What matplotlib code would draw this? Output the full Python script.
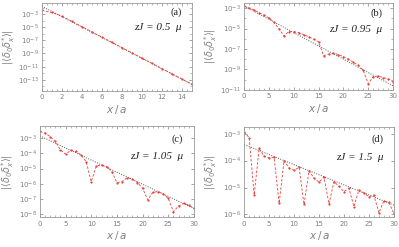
import numpy as np
import matplotlib
matplotlib.use('Agg')
import matplotlib.pyplot as plt
from matplotlib.ticker import FixedLocator, FuncFormatter, MultipleLocator

# log10 values
xa = list(range(16))
ya = [-2.4, -2.75, -3.3, -4.1, -4.9, -5.7, -6.5, -7.3, -8.1, -8.9,
      -9.7, -10.5, -11.3, -12.1, -12.9, -13.7]
fit_xa = [0, 15]
fit_ya = [-1.8, -13.7]

xb = list(range(31))
yb = [-2.8, -3.0, -3.2, -3.45, -3.7, -3.96, -4.4, -5.0, -5.73, -5.3,
      -5.3, -5.4, -5.6, -5.8, -6.05, -6.3, -7.65, -7.5, -7.4, -7.55,
      -7.75, -8.0, -8.3, -8.6, -9.1, -10.4, -9.7, -9.65, -9.8, -9.9, -10.2]
fit_xb = [0, 30]
fit_yb = [-2.8, -10.6]

xc = list(range(31))
yc = [-2.56, -2.67, -2.9, -3.22, -3.77, -4.06, -3.8, -3.88, -4.1, -4.54,
      -5.86, -4.83, -4.76, -4.87, -5.2, -5.93, -5.86, -5.6, -5.7, -5.93,
      -6.3, -7.07, -6.57, -6.52, -6.68, -6.96, -7.84, -7.47, -7.3, -7.4, -7.63]
fit_xc = [0, 30]
fit_yc = [-2.85, -7.63]

xd = list(range(31))
yd = [-2.93, -3.15, -5.28, -3.55, -3.84, -3.9, -3.88, -5.59, -4.0, -4.28,
      -4.36, -4.25, -5.63, -4.38, -4.65, -4.8, -4.61, -5.61, -4.78, -4.96,
      -5.15, -5.03, -5.71, -5.09, -5.21, -5.34, -5.28, -5.94, -5.5, -5.55, -5.96]
fit_xd = [0, 30]
fit_yd = [-3.4, -5.65]

panels = [
    ('(a)', 'zJ = 0.5  \u03bc', xa, ya, fit_xa, fit_ya, (0, 15), (-14.7, -1.3),
     [0, 2, 4, 6, 8, 10, 12, 14], [-3, -5, -7, -9, -11, -13]),
    ('(b)', 'zJ = 0.95  \u03bc', xb, yb, fit_xb, fit_yb, (0, 30), (-11.0, -2.5),
     [0, 5, 10, 15, 20, 25, 30], [-3, -5, -7, -9, -11]),
    ('(c)', 'zJ = 1.05  \u03bc', xc, yc, fit_xc, fit_yc, (0, 30), (-8.2, -2.2),
     [0, 5, 10, 15, 20, 25, 30], [-3, -4, -5, -6, -7, -8]),
    ('(d)', 'zJ = 1.5  \u03bc', xd, yd, fit_xd, fit_yd, (0, 30), (-6.1, -2.75),
     [0, 5, 10, 15, 20, 25, 30], [-3, -4, -5, -6]),
]

boxes = [
    [0.105, 0.632, 0.376, 0.356],
    [0.612, 0.636, 0.373, 0.352],
    [0.100, 0.121, 0.386, 0.369],
    [0.612, 0.121, 0.375, 0.365],
]
# x position of the y label, and heights of the two texts, in axes units
ylab_x = [-0.165, -0.17, -0.155, -0.17]
tag_y = [0.89, 0.88, 0.86, 0.86]
txt_y = [0.72, 0.70, 0.66, 0.66]

gray = '#808080'
red = '#e8403a'
plt.rcParams['mathtext.fontset'] = 'dejavusans'

fig = plt.figure(figsize=(3.99, 2.47), dpi=100)

for i, (tag, txt, x, y, fx, fy, xl, yl, xt, yt) in enumerate(panels):
    ax = fig.add_axes(boxes[i])
    ax.plot(fx, 10.0 ** np.array(fy), ls=(0, (1, 1.5)), color='#555555', lw=0.7)
    ax.plot(x, 10.0 ** np.array(y), ls=(0, (3, 2)), color=red, lw=0.6,
            marker='o', ms=1.6, mew=0, mfc=red)
    ax.set_yscale('log')
    ax.set_xlim(*xl)
    ax.set_ylim(10.0 ** yl[0], 10.0 ** yl[1])
    ax.set_xticks(xt)
    ax.xaxis.set_minor_locator(MultipleLocator(0.5 if xl[1] == 15 else 1))
    decs = np.arange(int(np.floor(yl[0])), int(np.ceil(yl[1])) + 1)
    ax.yaxis.set_major_locator(FixedLocator([10.0 ** d for d in yt]))
    ax.yaxis.set_major_formatter(FuncFormatter(
        lambda v, p: r'$10^{%d}$' % round(np.log10(v))))
    ax.yaxis.set_minor_locator(FixedLocator([10.0 ** d for d in decs if d not in yt]))
    ax.yaxis.set_minor_formatter(FuncFormatter(lambda v, p: ''))
    ax.tick_params(which='both', direction='in', top=True, right=True,
                   color=gray, labelcolor=gray, labelsize=5, pad=2.5)
    ax.tick_params(which='major', length=2.5, width=0.5)
    ax.tick_params(which='minor', length=1.3, width=0.4)
    for s in ax.spines.values():
        s.set_color('#999999')
        s.set_linewidth(0.6)
    ax.set_xlabel(r'$x\,/\,a$', color=gray, fontsize=7.5, labelpad=2)
    ax.set_ylabel(r'$|\langle\delta_0\delta_x^{*}\rangle|$', color=gray, fontsize=7)
    ax.yaxis.set_label_coords(ylab_x[i], 0.5)
    ax.text(0.93, tag_y[i], tag, transform=ax.transAxes, ha='right', va='center',
            fontsize=7.5, family='Liberation Serif', color='#222222')
    ax.text(0.93, txt_y[i], txt, transform=ax.transAxes, ha='right', va='center',
            fontsize=8, family='Liberation Serif', style='italic', color='#222222')

fig.savefig('out.png', dpi=100)
